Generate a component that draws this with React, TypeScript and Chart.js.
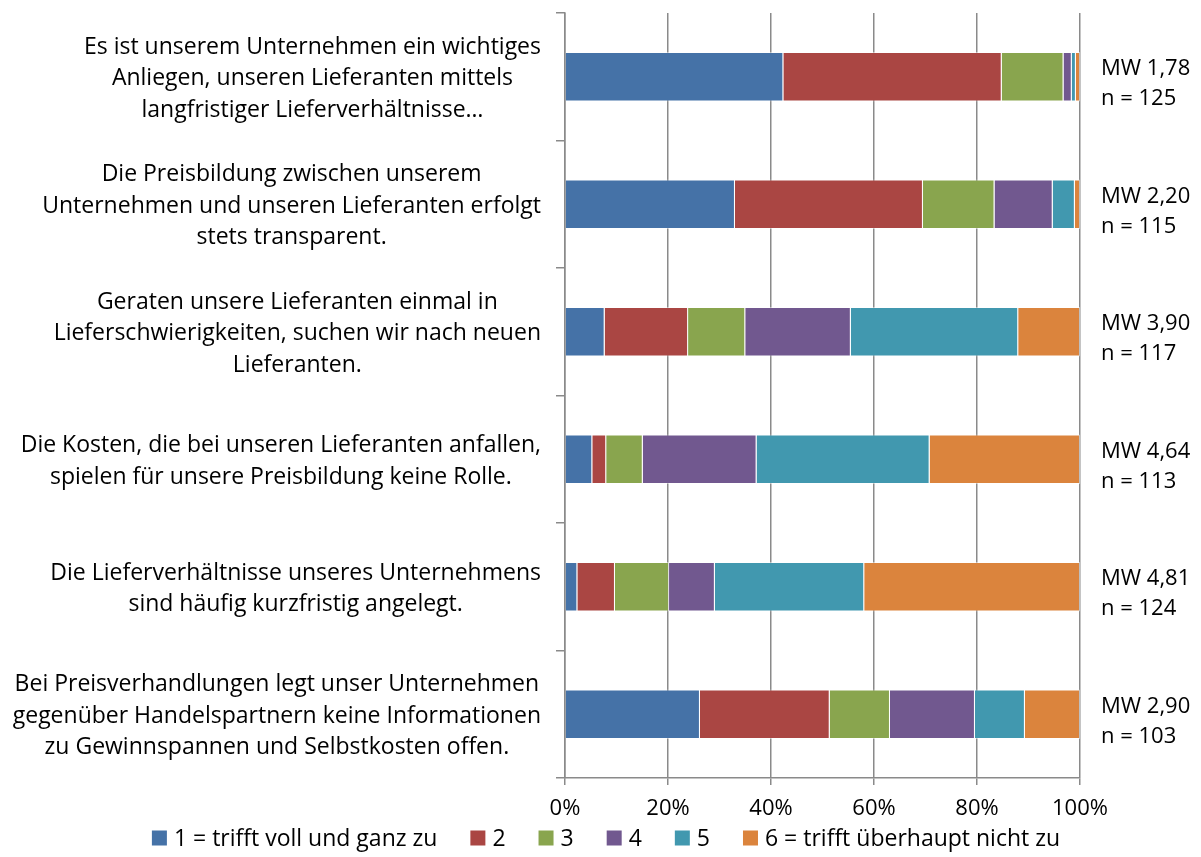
import React, { useEffect, useRef } from "react";
import { Chart, registerables } from "chart.js";

Chart.register(...registerables);

const categoryLines: string[][] = [
  ["Es ist unserem Unternehmen ein wichtiges", "Anliegen, unseren Lieferanten mittels", "langfristiger Lieferverhältnisse…"],
  ["Die Preisbildung zwischen unserem", "Unternehmen und unseren Lieferanten erfolgt", "stets transparent."],
  ["Geraten unsere Lieferanten einmal in", "Lieferschwierigkeiten, suchen wir nach neuen", "Lieferanten."],
  ["Die Kosten, die bei unseren Lieferanten anfallen,", "spielen für unsere Preisbildung keine Rolle."],
  ["Die Lieferverhältnisse unseres Unternehmens", "sind häufig kurzfristig angelegt."],
  ["Bei Preisverhandlungen legt unser Unternehmen", "gegenüber Handelspartnern keine Informationen", "zu Gewinnspannen und Selbstkosten offen."],
];

const seriesNames = ["1 = trifft voll und ganz zu", "2", "3", "4", "5", "6 = trifft überhaupt nicht zu"];
const seriesColors = ["#4572A7", "#AA4643", "#89A54E", "#71588F", "#4198AF", "#DB843D"];

const values1 = [42.4, 33.0, 7.7, 5.3, 2.4, 26.2];
const values2 = [42.4, 36.5, 16.2, 2.7, 7.3, 25.2];
const values3 = [12.0, 13.9, 11.1, 7.1, 10.5, 11.7];
const values4 = [1.6, 11.3, 20.5, 22.1, 8.9, 16.5];
const values5 = [0.8, 4.3, 32.5, 33.6, 29.0, 9.7];
const values6 = [0.8, 1.0, 12.0, 29.2, 41.9, 10.7];

const meanValues = ["1,78", "2,20", "3,90", "4,64", "4,81", "2,90"];
const sampleSizes = [125, 115, 117, 113, 124, 103];

const xTicks = [0, 20, 40, 60, 80, 100];

const FONT = "'Open Sans', sans-serif";
const FSIZE = 23;
const FSIZE_SMALL = 22;

const textPlugin = {
  id: "textPlugin",
  afterDraw(chart: any) {
    const ctx = chart.ctx;
    const y = chart.scales.y;
    const x = chart.scales.x;
    ctx.save();
    ctx.fillStyle = "#000";
    ctx.font = `${FSIZE}px ${FONT}`;
    ctx.textBaseline = "middle";
    // category labels
    categoryLines.forEach((lines, i) => {
      const cy = y.getPixelForValue(i) + 2;
      const maxW = Math.max(...lines.map((l) => ctx.measureText(l).width));
      const cx = y.right - 24 - maxW / 2;
      const lh = 31.5;
      ctx.textAlign = "center";
      lines.forEach((l, k) => {
        ctx.fillText(l, cx, cy + (k - (lines.length - 1) / 2) * lh);
      });
    });
    // legend
    const ds = chart.data.datasets;
    const box = 15, gap = 7, itemGap = 33;
    const widths = ds.map((d: any) => box + gap + ctx.measureText(d.label).width);
    const total = widths.reduce((a: number, b: number) => a + b, 0) + itemGap * (ds.length - 1);
    let lx = 606 - total / 2;
    const ly = 838;
    ds.forEach((d: any, k: number) => {
      ctx.fillStyle = d.backgroundColor;
      ctx.fillRect(lx, ly - box / 2, box, box);
      ctx.fillStyle = "#000";
      ctx.textAlign = "left";
      ctx.fillText(d.label, lx + box + gap, ly + 1);
      lx += widths[k] + itemGap;
    });
    // right annotations
    ctx.font = `${FSIZE_SMALL}px ${FONT}`;
    meanValues.forEach((mw, i) => {
      const cy = y.getPixelForValue(i) + 7;
      ctx.textAlign = "left";
      ctx.fillText(`MW ${mw}`, x.right + 21, cy - 15);
      ctx.fillText(`n = ${sampleSizes[i]}`, x.right + 21, cy + 15);
    });
    ctx.restore();
  },
};

export default function App() {
  const ref = useRef<HTMLCanvasElement>(null);
  useEffect(() => {
    document.body.style.margin = "0";
    const allValues = [values1, values2, values3, values4, values5, values6];
    const chart = new Chart(ref.current!, {
      type: "bar",
      data: {
        labels: categoryLines.map((l) => l.join(" ")),
        datasets: allValues.map((v, k) => ({
          label: seriesNames[k],
          data: v,
          backgroundColor: seriesColors[k],
          borderColor: "rgba(255,255,255,0.45)",
          borderWidth: 1,
          barPercentage: 0.39,
          categoryPercentage: 1,
        })),
      },
      options: {
        indexAxis: "y",
        responsive: false,
        animation: false,
        events: [],
        layout: { padding: { left: 0, right: 121, top: 13, bottom: 34 } },
        plugins: { legend: { display: false }, tooltip: { enabled: false } },
        scales: {
          x: {
            stacked: true,
            min: 0,
            max: 100,
            afterBuildTicks: (s: any) => {
              s.ticks = xTicks.map((v) => ({ value: v }));
            },
            afterFit: (s: any) => {
              s.height = 45;
            },
            ticks: {
              callback: (v: any) => `${v}%`,
              color: "#000",
              font: { family: FONT, size: FSIZE_SMALL },
              padding: 11,
              maxRotation: 0,
            },
            grid: { color: "#8a8a8a", lineWidth: 1.5, tickLength: 7, drawTicks: true },
            border: { color: "#8a8a8a", width: 1.5 },
          },
          y: {
            stacked: true,
            afterFit: (s: any) => {
              s.width = 565;
            },
            ticks: { display: false },
            grid: { color: "#8a8a8a", lineWidth: 1.5, drawOnChartArea: false, tickLength: 9, offset: true },
            border: { color: "#8a8a8a", width: 1.5 },
          },
        },
      },
      plugins: [textPlugin],
    });
    return () => chart.destroy();
  }, []);
  return (
    <div style={{ position: "absolute", left: 0, top: 0, width: 1201, height: 857 }}>
      <canvas ref={ref} width={1201} height={857} style={{ display: "block" }} />
    </div>
  );
}
